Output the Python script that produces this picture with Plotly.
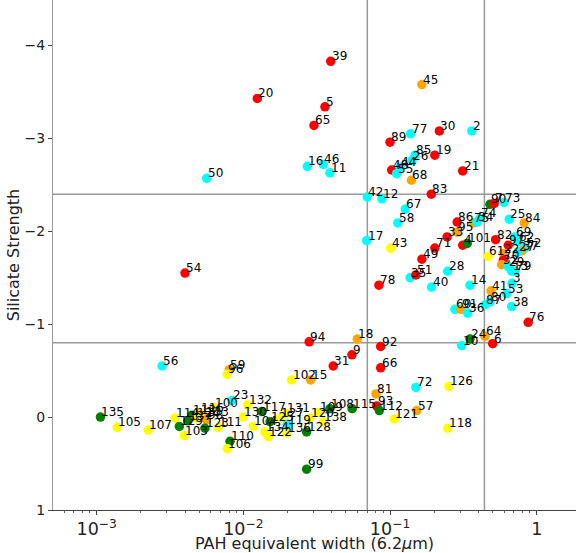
import math
import plotly.graph_objects as go

labels = ["39","20","5","65","16","46","11","50","89","45",
          "77","30","2","85","19","48","44","26","55","68",
          "21","83","42","12","67","58","90","7","73","86",
          "74","75","34","33","95","43","17","71","49","4",
          "101","82","61","35","51","28","78","40","14","41",
          "53","3","38","76","87","80","60","91","36","24",
          "64","6","10","18","92","94","9","31","66","56",
          "59","96","102","15","72","81","23","126","93","112",
          "57","121","118","115","108","109","138","128","136","120",
          "119","132","130","117","104","131","127","125","122","134",
          "135","105","107","114","129","103","113","133","98","111",
          "100","110","106","99","25","84","69","62","97","52",
          "37","27","22","70","32","29","13","79","54","124",
          "116","137","123"]

pah_ew = [0.0394,0.01245,0.0360,0.0303,0.0273,0.0351,0.0389,0.00562,0.100,0.165,
          0.138,0.217,0.361,0.148,0.202,0.1026,0.117,0.141,0.111,0.140,
          0.313,0.191,0.0700,0.0881,0.127,0.113,0.480,0.513,0.598,0.287,
          0.410,0.369,0.392,0.245,0.287,0.101,0.0693,0.202,0.165,0.313,
          0.336,0.525,0.468,0.137,0.150,0.247,0.0840,0.192,0.351,0.488,
          0.624,0.678,0.675,0.875,0.444,0.480,0.277,0.304,0.338,0.351,
          0.444,0.501,0.308,0.0598,0.0863,0.0281,0.0550,0.0410,0.0863,0.00279,
          0.00802,0.00777,0.0213,0.0288,0.150,0.0802,0.00836,0.252,0.0811,0.0845,
          0.152,0.107,0.247,0.0552,0.0389,0.0327,0.0351,0.0270,0.0198,0.0284,
          0.0199,0.0107,0.00997,0.0134,0.0117,0.0195,0.0179,0.0152,0.0148,0.0140,
          0.00106,0.00138,0.00225,0.00342,0.00366,0.00395,0.00445,0.00547,0.00562,0.00675,
          0.00631,0.00811,0.00777,0.0270,0.650,0.822,0.711,0.748,0.640,0.832,
          0.793,0.748,0.592,0.592,0.577,0.640,0.675,0.711,0.00400,0.00475,
          0.00506,0.00419,0.00547]

silicate = [-3.83,-3.43,-3.34,-3.14,-2.70,-2.72,-2.63,-2.57,-2.96,-3.58,
            -3.05,-3.08,-3.08,-2.82,-2.82,-2.66,-2.69,-2.76,-2.62,-2.55,
            -2.65,-2.40,-2.37,-2.35,-2.24,-2.09,-2.29,-2.30,-2.31,-2.10,
            -2.14,-2.09,-2.10,-1.94,-1.99,-1.82,-1.90,-1.82,-1.70,-1.85,
            -1.87,-1.91,-1.73,-1.50,-1.53,-1.57,-1.42,-1.40,-1.42,-1.36,
            -1.33,-1.44,-1.19,-1.02,-1.21,-1.24,-1.16,-1.16,-1.12,-0.84,
            -0.87,-0.79,-0.77,-0.84,-0.76,-0.81,-0.67,-0.55,-0.53,-0.55,
            -0.51,-0.46,-0.40,-0.40,-0.32,-0.25,-0.18,-0.33,-0.12,-0.07,
            -0.07,0.02,0.12,-0.09,-0.09,-0.05,0.05,0.16,0.17,0.01,
            0.08,-0.13,0.0,-0.06,0.10,-0.04,0.01,0.05,0.21,0.16,
            0.0,0.11,0.14,0.01,0.10,0.20,-0.02,0.0,0.03,0.11,
            -0.10,0.26,0.34,0.56,-2.13,-2.09,-1.94,-1.89,-1.85,-1.82,
            -1.79,-1.78,-1.76,-1.69,-1.64,-1.62,-1.57,-1.57,-1.55,0.01,
            -0.04,0.04,0.12]

group = ["red","red","red","red","cyan","cyan","cyan","cyan","red","orange",
         "cyan","red","cyan","cyan","red","red","cyan","cyan","cyan","orange",
         "red","red","cyan","cyan","cyan","cyan","green","red","cyan","red",
         "cyan","orange","cyan","red","orange","yellow","cyan","red","red","red",
         "green","red","yellow","cyan","red","cyan","red","cyan","cyan","orange",
         "cyan","cyan","cyan","red","cyan","cyan","cyan","orange","cyan","green",
         "orange","red","cyan","orange","red","red","red","red","red","cyan",
         "orange","yellow","yellow","orange","cyan","orange","cyan","yellow","red","green",
         "orange","yellow","yellow","green","green","yellow","yellow","green","yellow","yellow",
         "cyan","yellow","yellow","green","yellow","yellow","yellow","green","yellow","yellow",
         "green","yellow","yellow","yellow","green","yellow","green","orange","orange","yellow",
         "yellow","green","yellow","green","cyan","orange","cyan","cyan","red","cyan",
         "orange","cyan","orange","red","orange","cyan","cyan","cyan","red","yellow",
         "yellow","green","green"]

color_map = {"red": "#ff0000", "cyan": "#00ffff", "orange": "#ffa500",
             "yellow": "#ffff00", "green": "#008000"}

ref_x = [0.07, 0.44]
ref_y = [-2.4, -0.8]

FONT = "DejaVu Sans"

fig = go.Figure()

fig.add_trace(go.Scatter(
    x=pah_ew, y=silicate, mode="markers",
    marker=dict(size=9.5, color=[color_map[g] for g in group], line=dict(width=0)),
    hoverinfo="skip", showlegend=False))

for xv in ref_x:
    fig.add_shape(type="line", xref="x", yref="paper", x0=xv, x1=xv, y0=0, y1=1,
                  line=dict(color="#9a9a9a", width=1.5), layer="below")
for yv in ref_y:
    fig.add_shape(type="line", xref="paper", yref="y", x0=0, x1=1, y0=yv, y1=yv,
                  line=dict(color="#9a9a9a", width=1.5), layer="below")

for lab, xv, yv in zip(labels, pah_ew, silicate):
    fig.add_annotation(x=math.log10(xv), y=yv, text=lab, showarrow=False,
                       xanchor="left", yanchor="bottom", xshift=0, yshift=-3,
                       borderpad=0, font=dict(family=FONT, size=12, color="black"))

fig.update_layout(
    width=576, height=553,
    margin=dict(l=53, r=0, t=0, b=43),
    paper_bgcolor="white", plot_bgcolor="white",
    font=dict(family=FONT, color="#222"),
    showlegend=False,
)

fig.update_xaxes(
    type="log", range=[-3.298, 0.268], dtick=1, exponentformat="power",
    showgrid=False, zeroline=False, showline=True, linecolor="#444", linewidth=1,
    ticks="outside", ticklen=4, tickcolor="#444",
    minor=dict(ticks="outside", ticklen=2, tickcolor="#666", showgrid=False),
    tickfont=dict(family=FONT, size=14, color="#222"),
    title=dict(text="PAH equivalent width (6.2<i>μ</i>m)",
               font=dict(family=FONT, size=16, color="#222"), standoff=4),
    automargin=False,
)

fig.update_yaxes(
    range=[1, -4.49], tick0=0, dtick=1,
    showgrid=False, zeroline=False, showline=True, linecolor="#999", linewidth=1,
    ticks="outside", ticklen=4, tickcolor="#444",
    tickfont=dict(family=FONT, size=14, color="#222"),
    title=dict(text="Silicate Strength",
               font=dict(family=FONT, size=16, color="#222"), standoff=0),
    automargin=False,
)

fig.write_html("out.html", config={"displayModeBar": False},
               post_script="document.body.style.margin='0';document.body.style.overflow='hidden';")
